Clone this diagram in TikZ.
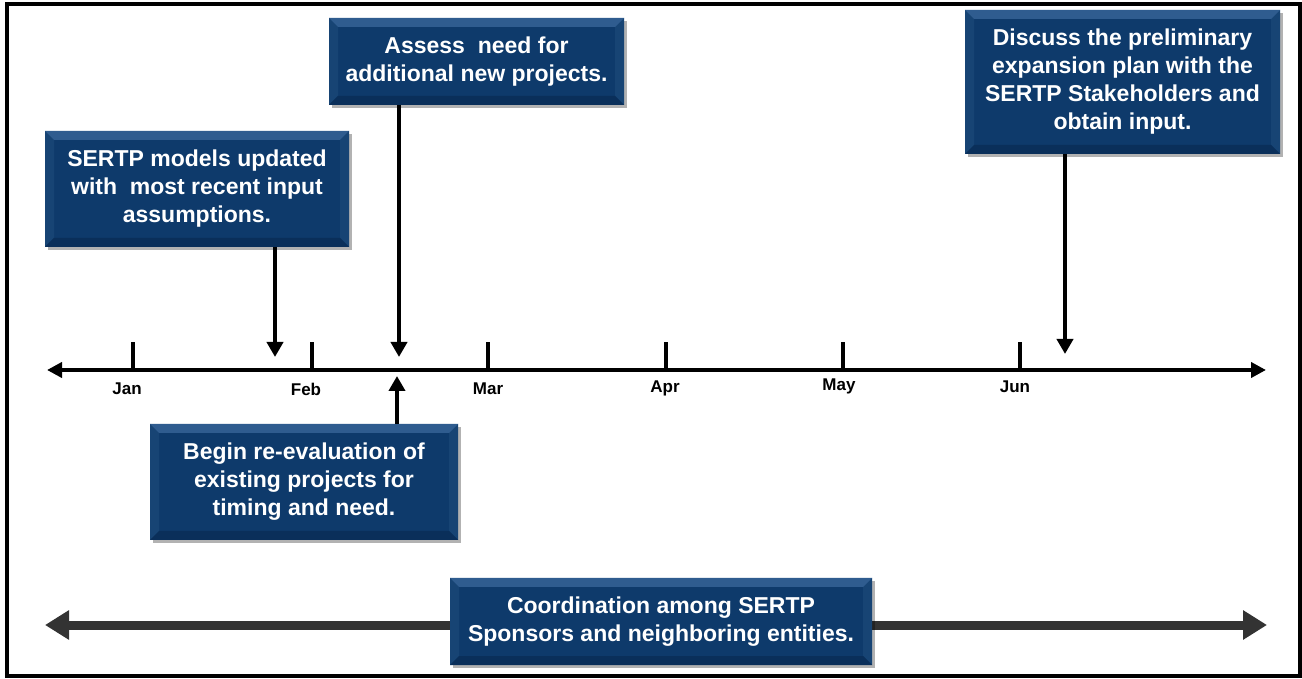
\documentclass[tikz,border=0pt]{standalone}
\usepackage{fontspec}
\setmainfont{Liberation Sans}
\usetikzlibrary{arrows.meta,shadows}
\definecolor{boxblue}{HTML}{0E3A6B}
\definecolor{boxlight}{HTML}{2F5C8F}
\definecolor{boxside}{HTML}{174474}
\definecolor{boxdark}{HTML}{0A2F5A}
\definecolor{spangray}{HTML}{333333}
\begin{document}
\begin{tikzpicture}[x=1pt,y=1pt,event/.style={rectangle,fill=boxblue,text=white,align=center,inner sep=0pt,font=\fontsize{23}{28}\selectfont\bfseries,drop shadow={shadow xshift=3pt,shadow yshift=-3pt,fill=black,opacity=0.3},path picture={
\fill[boxside] (path picture bounding box.north west) -- ([shift={(9pt,-9pt)}]path picture bounding box.north west) -- ([shift={(9pt,9pt)}]path picture bounding box.south west) -- (path picture bounding box.south west) -- cycle;
\fill[boxside] (path picture bounding box.north east) -- ([shift={(-9pt,-9pt)}]path picture bounding box.north east) -- ([shift={(-9pt,9pt)}]path picture bounding box.south east) -- (path picture bounding box.south east) -- cycle;
\fill[boxlight] (path picture bounding box.north west) -- (path picture bounding box.north east) -- ([shift={(-9pt,-9pt)}]path picture bounding box.north east) -- ([shift={(9pt,-9pt)}]path picture bounding box.north west) -- cycle;
\fill[boxdark] (path picture bounding box.south west) -- (path picture bounding box.south east) -- ([shift={(-9pt,9pt)}]path picture bounding box.south east) -- ([shift={(9pt,9pt)}]path picture bounding box.south west) -- cycle;}},month/.style={font=\fontsize{17}{20}\selectfont\bfseries},tick/.style={line width=4pt},timeline/.style={line width=4.5pt,{Triangle[length=15pt,width=15pt]}-{Triangle[length=15pt,width=15pt]}},pointer/.style={line width=4.5pt,-{Triangle[length=15pt,width=16pt]}},span/.style={line width=9pt,draw=spangray,{Triangle[length=24pt,width=28pt]}-{Triangle[length=24pt,width=28pt]}}]
\useasboundingbox (0,0) rectangle (1302,678);
\fill[white] (0,0) rectangle (1302,678);
\draw[line width=4pt] (7,2) rectangle (1300,674);
% time line
\draw[tick] (133,308) -- (133,336);
\draw[tick] (312,308) -- (312,336);
\draw[tick] (488,308) -- (488,336);
\draw[tick] (666,308) -- (666,336);
\draw[tick] (843,308) -- (843,336);
\draw[tick] (1020,308) -- (1020,336);
\coordinate (tlstart) at (47,308);
\coordinate (tlend) at (1266,308);
\draw[timeline] (tlstart) -- (tlend);
\node[month] (jan) at (127,289) {Jan};
\node[month] (feb) at (306,289) {Feb};
\node[month] (mar) at (488,289) {Mar};
\node[month] (apr) at (665,290) {Apr};
\node[month] (may) at (839,292) {May};
\node[month] (jun) at (1015,291) {Jun};
% events
\node[event,minimum width=304pt,minimum height=116pt] (models) at (197,489) {SERTP models updated\\with\ \ most recent input\\assumptions.};
\node[event,minimum width=295pt,minimum height=87pt] (assess) at (476.5,616.5) {Assess\ \ need for\\additional new projects.};
\node[event,minimum width=315pt,minimum height=144pt] (discuss) at (1122.5,596) {Discuss the preliminary\\expansion plan with the\\SERTP Stakeholders and\\obtain input.};
\node[event,minimum width=308pt,minimum height=116pt] (reeval) at (304,196) {Begin re-evaluation of\\existing projects for\\timing and need.};
\coordinate (modelstip) at (275,321);
\coordinate (assesstip) at (399,321);
\coordinate (discusstip) at (1065,324);
\coordinate (reevaltip) at (397,302);
\draw[pointer] (modelstip |- models.south) -- (modelstip);
\draw[pointer] (assesstip |- assess.south) -- (assesstip);
\draw[pointer] (discusstip |- discuss.south) -- (discusstip);
\draw[pointer] (reevaltip |- reeval.north) -- (reevaltip);
% coordination
\coordinate (spanleft) at (45,53);
\coordinate (spanright) at (1267,53);
\draw[span] (spanleft) -- (spanright);
\node[event,minimum width=422pt,minimum height=87pt] (coord) at (661,56.5) {Coordination among SERTP\\Sponsors and neighboring entities.};
\end{tikzpicture}
\end{document}
